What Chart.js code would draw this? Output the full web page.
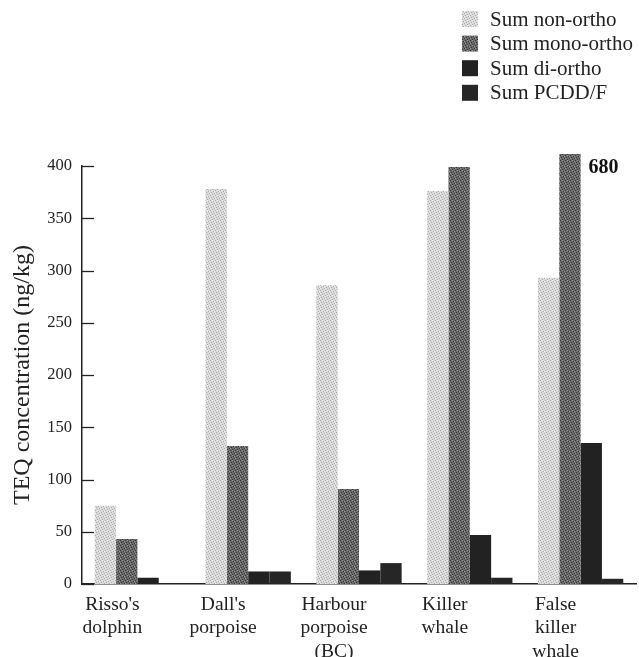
<!DOCTYPE html>
<html>
<head>
<meta charset="utf-8">
<script src="https://cdn.jsdelivr.net/npm/chart.js@4"></script>
<style>
  body { margin: 0; background: #fff; }
  #wrap { width: 639px; height: 657px; position: relative; }
</style>
</head>
<body>
<div id="wrap"><canvas id="teqChart"></canvas></div>
<script>
// categories and series (ng/kg TEQ)
const species = [
  ["Risso's", "dolphin"],
  ["Dall's", "porpoise"],
  ["Harbour", "porpoise", "(BC)"],
  ["Killer", "whale"],
  ["False", "killer", "whale"]
];
const seriesNames = ["Sum non-ortho", "Sum mono-ortho", "Sum di-ortho", "Sum PCDD/F"];
const nonOrtho = [75, 378, 286, 376, 293];
const monoOrtho = [43, 132, 91, 399, 680];
const diOrtho = [6, 12, 13, 47, 135];
const pcddF = [null, 12, 20, 6, 5];
const yTicks = [0, 50, 100, 150, 200, 250, 300, 350, 400];

const serif = "'Liberation Serif', 'DejaVu Serif', serif";

// small halftone-like patterns to imitate the printed textures
function makePattern(base, dark, light) {
  const c = document.createElement("canvas");
  c.width = 5;
  c.height = 5;
  const g = c.getContext("2d");
  g.fillStyle = base;
  g.fillRect(0, 0, 5, 5);
  g.fillStyle = dark;
  [[0, 0], [3, 1], [1, 2], [4, 3], [2, 4]].forEach(p => g.fillRect(p[0], p[1], 1, 1));
  g.fillStyle = light;
  [[2, 0], [0, 3], [4, 1]].forEach(p => g.fillRect(p[0], p[1], 1, 1));
  return g.createPattern(c, "repeat");
}

const fills = [
  makePattern("#dadada", "#a9a9a9", "#f0f0f0"),
  makePattern("#6a6a6a", "#353535", "#9a9a9a"),
  "#222222",
  "#262626"
];

// vertical legend in the top-right corner
const cornerLegend = {
  id: "cornerLegend",
  afterDraw(chart) {
    const ctx = chart.ctx;
    ctx.save();
    ctx.font = "21px " + serif;
    ctx.textBaseline = "middle";
    chart.data.datasets.forEach((ds, i) => {
      const y = 19 + i * 24.6;
      ctx.fillStyle = ds.backgroundColor;
      ctx.fillRect(462, y - 8, 16, 16);
      ctx.fillStyle = "#222";
      ctx.fillText(ds.label, 490, y + 1);
    });
    ctx.restore();
  }
};

// inward tick marks on the value axis and the off-scale value label
const extras = {
  id: "extras",
  afterDraw(chart) {
    const ctx = chart.ctx;
    const y = chart.scales.y;
    ctx.save();
    ctx.strokeStyle = "#222";
    ctx.lineWidth = 1.3;
    yTicks.forEach(v => {
      const py = Math.round(y.getPixelForValue(v)) + 0.5;
      ctx.beginPath();
      ctx.moveTo(y.right, py);
      ctx.lineTo(y.right + 12, py);
      ctx.stroke();
    });
    const bar = chart.getDatasetMeta(1).data[4];
    ctx.fillStyle = "#111";
    ctx.font = "bold 20px " + serif;
    ctx.textBaseline = "middle";
    ctx.fillText(String(monoOrtho[4]), bar.x + bar.width / 2 + 8, chart.chartArea.top + 2);
    ctx.restore();
  }
};

const datasets = [nonOrtho, monoOrtho, diOrtho, pcddF].map((vals, i) => ({
  label: seriesNames[i],
  data: vals,
  backgroundColor: fills[i],
  borderWidth: 0,
  barPercentage: 1,
  categoryPercentage: 0.77,
  clip: { left: 0, top: 12, right: 0, bottom: 0 }
}));

new Chart(document.getElementById("teqChart"), {
  type: "bar",
  data: { labels: species, datasets },
  plugins: [cornerLegend, extras],
  options: {
    responsive: true,
    maintainAspectRatio: false,
    animation: false,
    layout: { padding: { top: 166, right: 3, left: 0, bottom: 0 } },
    plugins: {
      legend: { display: false },
      tooltip: { enabled: false }
    },
    scales: {
      x: {
        grid: { display: false, drawTicks: false },
        border: { display: true, color: "#222", width: 1.5 },
        afterFit: scale => { scale.height = 73; },
        ticks: {
          color: "#222",
          font: { family: serif, size: 19.5, lineHeight: 1.2 },
          padding: 9,
          labelOffset: -25,
          maxRotation: 0,
          autoSkip: false
        }
      },
      y: {
        min: 0,
        max: 400,
        grid: { display: false, drawTicks: false },
        border: { display: true, color: "#222", width: 1.5 },
        afterFit: scale => { scale.width = 82; },
        afterBuildTicks: scale => { scale.ticks = yTicks.map(v => ({ value: v })); },
        ticks: {
          color: "#222",
          font: { family: serif, size: 16.5 },
          padding: 10
        },
        title: {
          display: true,
          text: "TEQ concentration (ng/kg)",
          color: "#222",
          font: { family: serif, size: 24 },
          padding: { top: 8, bottom: 2 }
        }
      }
    }
  }
});
</script>
</body>
</html>
